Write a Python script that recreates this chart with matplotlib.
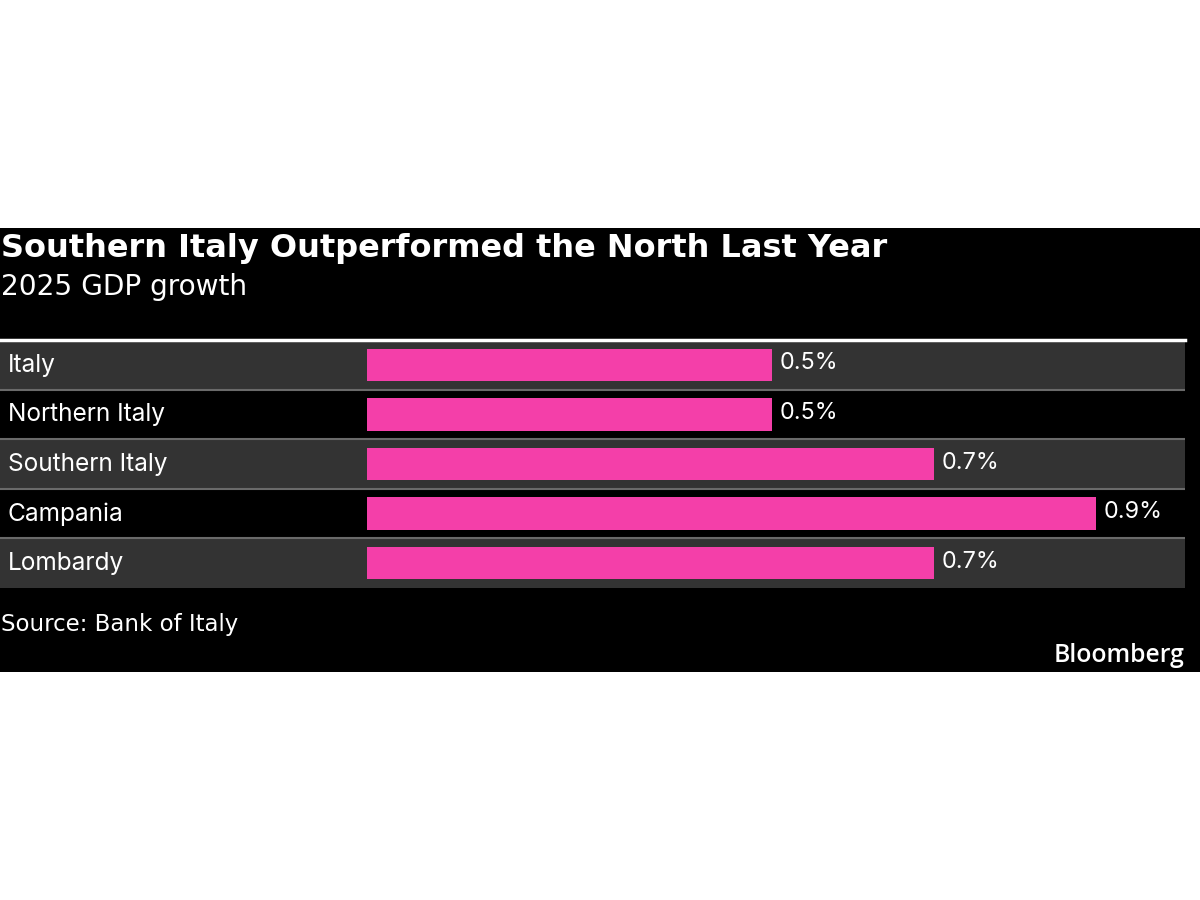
import matplotlib
matplotlib.use("Agg")
import matplotlib.pyplot as plt
from matplotlib.patches import Rectangle

categories = ["Italy", "Northern Italy", "Southern Italy", "Campania", "Lombardy"]
values = [0.5, 0.5, 0.7, 0.9, 0.7]
value_labels = ["0.5%", "0.5%", "0.7%", "0.9%", "0.7%"]

title = "Southern Italy Outperformed the North Last Year"
subtitle = "2025 GDP growth"
source = "Source: Bank of Italy"
brand = "Bloomberg"

W, H = 1200, 900
fig = plt.figure(figsize=(12, 9), dpi=100, facecolor="white")

def fy(py):
    return 1 - py / H

def fx(px):
    return px / W

# black panel
fig.patches.append(Rectangle((0, fy(672)), 1, fy(228) - fy(672), transform=fig.transFigure,
                             facecolor="black", edgecolor="none", zorder=-5))

fig.text(fx(1), fy(248), title, color="white", fontsize=23, fontweight="bold",
         family="DejaVu Sans", va="center", ha="left")
fig.text(fx(1), fy(287), subtitle, color="white", fontsize=20.2,
         family="DejaVu Sans", va="center", ha="left")
fig.text(fx(1), fy(624), source, color="white", fontsize=16.5,
         family="DejaVu Sans", va="center", ha="left")
fig.text(fx(1185), fy(655), brand, color="white", fontsize=17.8, fontweight="semibold",
         family="Open Sans", va="center", ha="right")

# table axes
top, bottom = 340, 588
ax = fig.add_axes([0, fy(bottom), fx(1185), fy(top) - fy(bottom)], zorder=2)
ax.set_facecolor("black")
n = len(categories)
ax.set_ylim(n - 0.5, -0.5)
scale = 810.0
ax.set_xlim(-367 / scale, (1185 - 367) / scale)
for s in ax.spines.values():
    s.set_visible(False)
ax.set_xticks([])
ax.set_yticks([])

for i in range(n):
    if i % 2 == 0:
        ax.axhspan(i - 0.5, i + 0.5, color="#333333", zorder=0, lw=0)
for i in range(1, n):
    ax.axhline(i - 0.5, color="#6a6a6a", lw=1.5, zorder=1)
ax.axhline(-0.5, color="white", lw=2.5, zorder=3, clip_on=False)

ax.barh(range(n), values, height=0.65, left=0, color="#F43FA9", zorder=2)

x0 = ax.get_xlim()[0]
for i, (c, v, lab) in enumerate(zip(categories, values, value_labels)):
    ax.text(x0 + 8 / scale, i + 0.01, c, color="white", fontsize=17.6, family="Inter",
            va="center", ha="left")
    ax.text(v + 8 / scale, i - 0.03, lab, color="white", fontsize=16.8, family="Inter",
            va="center", ha="left")

fig.savefig("out.png", dpi=100, facecolor="white")
